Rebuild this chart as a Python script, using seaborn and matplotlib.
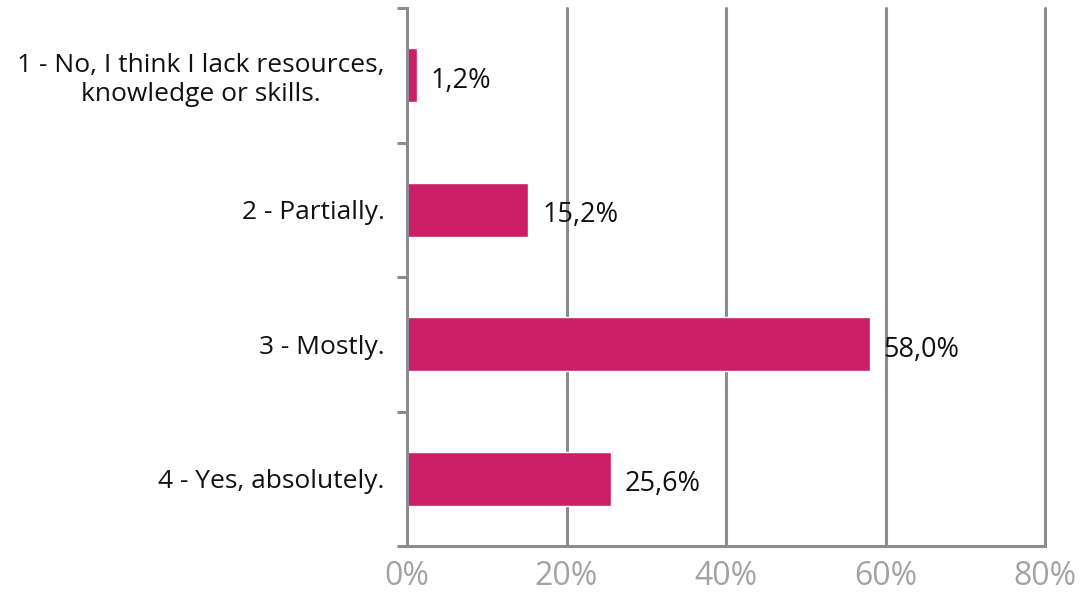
import matplotlib
matplotlib.use("Agg")
import matplotlib.pyplot as plt
import seaborn as sns
import pandas as pd

categories = ["1 - No, I think I lack resources,\nknowledge or skills.",
              "2 - Partially.", "3 - Mostly.", "4 - Yes, absolutely."]
values = [1.2, 15.2, 58.0, 25.6]
value_labels = ["1,2%", "15,2%", "58,0%", "25,6%"]
xticks = [0, 20, 40, 60, 80]
xtick_labels = ["0%", "20%", "40%", "60%", "80%"]

sns.set_theme(style="white")
plt.rcParams['font.family'] = ['Open Sans', 'DejaVu Sans']

df = pd.DataFrame({"cat": categories, "val": values})

fig = plt.figure(figsize=(10.86, 5.96), dpi=100)
ax = fig.add_axes([407/1086, 50/596, (1045-407)/1086, (546-8)/596])

grey = "#8c8c8c"
for x in xticks[1:]:
    ax.axvline(x, color=grey, lw=2.2, zorder=0, clip_on=False)

sns.barplot(data=df, x="val", y="cat", color="#CC1D67", width=0.4, ax=ax,
            saturation=1, zorder=2)

ax.set_xlim(0, 80)
ax.set_ylim(3.5, -0.5)
ax.set_xticks(xticks)
ax.set_xticklabels(xtick_labels, color="#a3a3a3", fontsize=23)
ax.set_xlabel("")
ax.set_ylabel("")
ax.set_yticks([0, 1, 2, 3])
ax.set_yticklabels(categories, fontsize=19, color="#111111", multialignment="center",
                   linespacing=1.2)
ax.tick_params(axis="y", length=0, pad=16)
ax.tick_params(axis="x", length=7, width=2.2, color=grey, pad=3, direction="out")

ax.set_yticks([-0.5, 0.5, 1.5, 2.5, 3.5], minor=True)
ax.tick_params(axis="y", which="minor", length=7, width=2.2, color=grey, direction="out", left=True)

for s in ["top", "right"]:
    ax.spines[s].set_visible(False)
for s in ["left", "bottom"]:
    ax.spines[s].set_color(grey)
    ax.spines[s].set_linewidth(2.2)
ax.spines["bottom"].set_bounds(0, 80)

for i, (v, lab) in enumerate(zip(values, value_labels)):
    ax.annotate(lab, (v, i), xytext=(10, -4), textcoords="offset points",
                va="center", ha="left", fontsize=19.5, color="#111111")

fig.savefig("out.png", dpi=100)
